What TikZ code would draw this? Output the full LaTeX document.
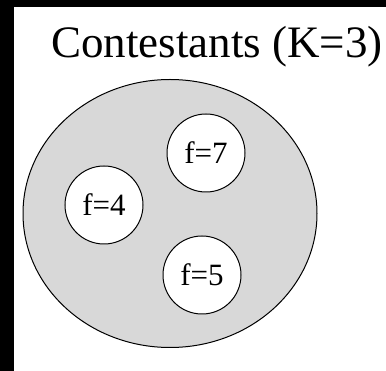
\documentclass[tikz,border=0pt]{standalone}
\usepackage{fontspec}
\setmainfont{Liberation Serif}
\definecolor{dotgray}{RGB}{216,216,216}
\tikzset{
  member/.style={circle, draw=black, line width=1pt, fill=white, minimum size=78pt, inner sep=0pt, font=\fontsize{31}{31}\selectfont},
}
\begin{document}
\begin{tikzpicture}[x=1pt,y=-1pt]
\useasboundingbox (0,0) rectangle (386,371);
\fill[black] (0,0) rectangle (386,7);
\fill[black] (0,0) rectangle (14,371);
\node[anchor=base east, inner sep=0pt, font=\fontsize{45}{45}\selectfont] (title) at (383,58) {Contestants (K=3)};
\draw[line width=1pt, fill=dotgray] (170,213.5) ellipse [x radius=147, y radius=134];
\coordinate (poolc) at (170,213.5);
\node[member] (a) at (206,153) {f=7};
\node[member] (b) at (104,205) {f=4};
\node[member] (c) at (202,275) {f=5};
\end{tikzpicture}
\end{document}
